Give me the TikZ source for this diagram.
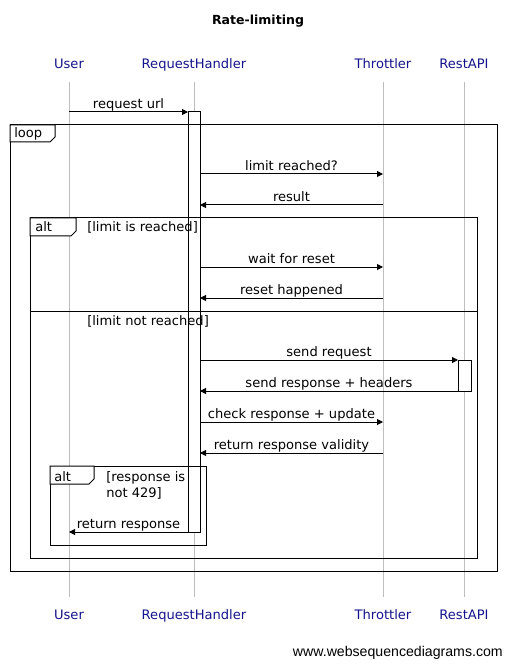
\documentclass[tikz,border=0pt]{standalone}
\usepackage{fontspec}
\setmainfont{DejaVu Sans}
\newfontfamily\wsdfont{Liberation Sans}
\usetikzlibrary{arrows.meta}
\definecolor{partblue}{RGB}{20,20,140}
\definecolor{lifegray}{RGB}{190,190,190}

\begin{document}
\begin{tikzpicture}[x=0.75pt,y=-0.75pt,
  every node/.style={inner sep=0pt,font=\fontsize{9.8pt}{12pt}\selectfont},
  participant/.style={text=partblue,anchor=base},
  lifeline/.style={draw=lifegray,line width=0.75pt},
  activation/.style={draw=black,fill=white,line width=0.75pt},
  frame/.style={draw=black,line width=0.75pt},
  tab/.style={draw=black,fill=white,line width=0.75pt},
  framelabel/.style={anchor=base west},
  msg/.style={draw=black,line width=0.75pt,-{Triangle[length=4.5pt,width=4.5pt]}},
  msglabel/.style={anchor=base,yshift=2.7pt},
]
\useasboundingbox (0,0) rectangle (512,666);

% title
\node[anchor=base,font=\fontsize{9.4pt}{12pt}\selectfont\bfseries] (title) at (258,25) {Rate-limiting};

% participants, top and bottom
\node[participant] (userT)  at (69,69)  {User};
\node[participant] (rhT)    at (194,69) {RequestHandler};
\node[participant] (thT)    at (383,69) {Throttler};
\node[participant] (apiT)   at (464,69) {RestAPI};
\node[participant] (userB)  at (69,619)  {User};
\node[participant] (rhB)    at (194,619) {RequestHandler};
\node[participant] (thB)    at (383,619) {Throttler};
\node[participant] (apiB)   at (464,619) {RestAPI};

% lifelines
\coordinate (userTop) at (69,82);   \coordinate (userBot) at (69,597);
\coordinate (rhTop)   at (194,82);  \coordinate (rhBot)   at (194,597);
\coordinate (thTop)   at (383,82);  \coordinate (thBot)   at (383,597);
\coordinate (apiTop)  at (464,82);  \coordinate (apiBot)  at (464,597);
\draw[lifeline] (userTop) -- (userBot);
\draw[lifeline] (rhTop) -- (rhBot);
\draw[lifeline] (thTop) -- (thBot);
\draw[lifeline] (apiTop) -- (apiBot);

% activation bars
\draw[activation] (188,112) rectangle (200,532);
\draw[activation] (458,360) rectangle (471,391);

% loop frame
\draw[frame] (10,125) rectangle (497,571);
\draw[tab] (10,125) -- (55,125) -- (55,137) -- (50,142) -- (10,142) -- cycle;
\node[framelabel] (loopL) at (14,138) {loop};

% outer alt frame
\draw[frame] (30,218) rectangle (477,558);
\draw[tab] (30,218) -- (76,218) -- (76,231) -- (71,236) -- (30,236) -- cycle;
\node[framelabel] (altL) at (35,232) {alt};
\node[framelabel] (condA) at (87,232) {[limit is reached]};
\draw[frame] (30,311) -- (477,311);
\node[framelabel] (condB) at (87,325) {[limit not reached]};

% inner alt frame
\draw[frame] (50,466) rectangle (206,545);
\draw[tab] (50,466) -- (94,466) -- (94,479) -- (89,484) -- (50,484) -- cycle;
\node[framelabel] (altL2) at (54,481) {alt};
\node[framelabel] (condC) at (106,481) {[response is};
\node[framelabel] (condD) at (106,497) {not 429]};

% messages
\coordinate (m1a) at (69,112);  \coordinate (m1b) at (188,112);
\draw[msg] (m1a) -- node[msglabel] {request url} (m1b);

\coordinate (m2a) at (200,174); \coordinate (m2b) at (383,174);
\draw[msg] (m2a) -- node[msglabel] {limit reached?} (m2b);

\coordinate (m3a) at (383,205); \coordinate (m3b) at (200,205);
\draw[msg] (m3a) -- node[msglabel] {result} (m3b);

\coordinate (m4a) at (200,267); \coordinate (m4b) at (383,267);
\draw[msg] (m4a) -- node[msglabel] {wait for reset} (m4b);

\coordinate (m5a) at (383,298); \coordinate (m5b) at (200,298);
\draw[msg] (m5a) -- node[msglabel] {reset happened} (m5b);

\coordinate (m6a) at (200,360); \coordinate (m6b) at (458,360);
\draw[msg] (m6a) -- node[msglabel] {send request} (m6b);

\coordinate (m7a) at (458,391); \coordinate (m7b) at (200,391);
\draw[msg] (m7a) -- node[msglabel] {send response + headers} (m7b);

\coordinate (m8a) at (200,422); \coordinate (m8b) at (383,422);
\draw[msg] (m8a) -- node[msglabel] {check response + update} (m8b);

\coordinate (m9a) at (383,453); \coordinate (m9b) at (200,453);
\draw[msg] (m9a) -- node[msglabel] {return response validity} (m9b);

\coordinate (m10a) at (188,532); \coordinate (m10b) at (69,532);
\draw[msg] (m10a) -- node[msglabel] {return response} (m10b);

% footer
\node[anchor=base east,font=\wsdfont\fontsize{10.6pt}{12pt}\selectfont] (credit) at (503,656) {www.websequencediagrams.com};
\end{tikzpicture}
\end{document}
